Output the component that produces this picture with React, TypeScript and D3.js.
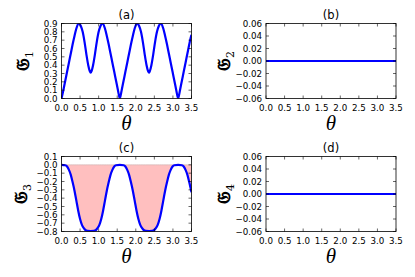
import * as d3 from 'd3';

// theta samples
const s1Theta = [
  0, 0.05, 0.1, 0.15, 0.2, 0.25, 0.3, 0.35, 0.4, 0.46, 0.52, 0.57, 0.62, 0.67, 0.72, 0.76, 0.785,
  0.81, 0.85, 0.9, 0.95, 1.0, 1.05, 1.11, 1.17, 1.22, 1.27, 1.32, 1.37, 1.42, 1.47, 1.52, 1.57,
  1.62, 1.67, 1.72, 1.77, 1.82, 1.87, 1.92, 1.97, 2.03, 2.09, 2.14, 2.19, 2.24, 2.29, 2.33, 2.36,
  2.38, 2.42, 2.47, 2.52, 2.57, 2.62, 2.68, 2.74, 2.79, 2.84, 2.89, 2.94, 2.99, 3.04, 3.09, 3.14,
  3.19, 3.24, 3.29, 3.34, 3.39, 3.44, 3.49, 3.5,
];
const s1Values = [
  0, 0.1, 0.21, 0.32, 0.43, 0.54, 0.65, 0.75, 0.84, 0.9, 0.87, 0.8, 0.68, 0.53, 0.4, 0.33, 0.31,
  0.33, 0.4, 0.53, 0.68, 0.8, 0.87, 0.9, 0.84, 0.75, 0.65, 0.54, 0.43, 0.32, 0.21, 0.1, 0,
  0.1, 0.21, 0.32, 0.43, 0.54, 0.65, 0.75, 0.84, 0.9, 0.87, 0.8, 0.68, 0.53, 0.4, 0.33, 0.31,
  0.33, 0.4, 0.53, 0.68, 0.8, 0.87, 0.9, 0.84, 0.75, 0.65, 0.54, 0.43, 0.32, 0.21, 0.1, 0,
  0.1, 0.21, 0.32, 0.43, 0.54, 0.65, 0.75, 0.765,
];

// theta samples
const s3Theta = [
  0, 0.1, 0.15, 0.2, 0.25, 0.3, 0.35, 0.4, 0.45, 0.5, 0.55, 0.6, 0.65, 0.7, 0.785,
  0.87, 0.92, 0.97, 1.02, 1.07, 1.12, 1.17, 1.22, 1.27, 1.32, 1.37, 1.42, 1.47, 1.57,
  1.67, 1.72, 1.77, 1.82, 1.87, 1.92, 1.97, 2.02, 2.07, 2.12, 2.17, 2.22, 2.27, 2.36,
  2.44, 2.49, 2.54, 2.59, 2.64, 2.69, 2.74, 2.79, 2.84, 2.89, 2.94, 2.99, 3.04, 3.14,
  3.24, 3.29, 3.34, 3.39, 3.44, 3.49, 3.5,
];
const s3Values = [
  0, -0.005, -0.02, -0.06, -0.12, -0.21, -0.31, -0.43, -0.55, -0.65, -0.72, -0.76, -0.785, -0.793, -0.795,
  -0.793, -0.785, -0.76, -0.72, -0.65, -0.55, -0.43, -0.31, -0.21, -0.12, -0.06, -0.02, -0.005, 0,
  -0.005, -0.02, -0.06, -0.12, -0.21, -0.31, -0.43, -0.55, -0.65, -0.72, -0.76, -0.785, -0.793, -0.795,
  -0.793, -0.785, -0.76, -0.72, -0.65, -0.55, -0.43, -0.31, -0.21, -0.12, -0.06, -0.02, -0.005, 0,
  -0.005, -0.02, -0.06, -0.12, -0.21, -0.31, -0.33,
];

// panels (b) and (d) are flat at zero
const flatTheta = [0, 3.5];
const flatValues = [0, 0];

const xTicks = [0, 0.5, 1, 1.5, 2, 2.5, 3, 3.5];
const yTicksA = [0, 0.1, 0.2, 0.3, 0.4, 0.5, 0.6, 0.7, 0.8, 0.9];
const yTicksC = [0.1, 0, -0.1, -0.2, -0.3, -0.4, -0.5, -0.6, -0.7, -0.8];
const yTicksFlat = [-0.06, -0.04, -0.02, 0, 0.02, 0.04, 0.06];

const W = 130;
const H = 75;
const TICK = 3;
const sans = 'DejaVu Sans, sans-serif';

type PanelProps = {
  id: string;
  left: number;
  top: number;
  title: string;
  sub: string;
  theta: number[];
  values: number[];
  yDomain: [number, number];
  yTicks: number[];
  yFmt: string;
  fill?: boolean;
  labelGap: number;
};

function Panel({ id, left, top, title, sub, theta, values, yDomain, yTicks, yFmt, fill, labelGap }: PanelProps) {
  const x = d3.scaleLinear().domain([0, 3.5]).range([0, W]);
  const y = d3.scaleLinear().domain(yDomain).range([H, 0]);
  const pts: [number, number][] = theta.map((t, i) => [t, values[i]]);

  const line = d3.line<[number, number]>()
    .x(d => x(d[0]))
    .y(d => y(d[1]))
    .curve(d3.curveMonotoneX);

  const area = d3.area<[number, number]>()
    .x(d => x(d[0]))
    .y0(y(0))
    .y1(d => y(d[1]))
    .curve(d3.curveMonotoneX);

  const fx = d3.format('.1f');
  const fy = d3.format(yFmt);

  return (
    <g transform={`translate(${left},${top})`}>
      <defs>
        <clipPath id={`clip-${id}`}>
          <rect x={0} y={0} width={W} height={H} />
        </clipPath>
      </defs>
      <g clipPath={`url(#clip-${id})`}>
        {fill && (
          <path d={area(pts) ?? ''} fill="#ffbfbf" stroke="#c9b3b3" strokeWidth={0.6} />
        )}
        <path d={line(pts) ?? ''} fill="none" stroke="#0000ff" strokeWidth={2.2} />
      </g>

      {/* inward ticks on all four sides */}
      {xTicks.map(t => (
        <g key={`xt${t}`}>
          <line x1={x(t)} x2={x(t)} y1={H} y2={H - TICK} stroke="#000" strokeWidth={0.6} />
          <line x1={x(t)} x2={x(t)} y1={0} y2={TICK} stroke="#000" strokeWidth={0.6} />
          <text x={x(t)} y={H + 12.5} textAnchor="middle" fontFamily={sans} fontSize={8.7}>{fx(t)}</text>
        </g>
      ))}
      {yTicks.map(t => (
        <g key={`yt${t}`}>
          <line x1={0} x2={TICK} y1={y(t)} y2={y(t)} stroke="#000" strokeWidth={0.6} />
          <line x1={W} x2={W - TICK} y1={y(t)} y2={y(t)} stroke="#000" strokeWidth={0.6} />
          <text x={-4} y={y(t)} dy="0.36em" textAnchor="end" fontFamily={sans} fontSize={8.7}>{fy(t)}</text>
        </g>
      ))}

      <rect x={0} y={0} width={W} height={H} fill="none" stroke="#000" strokeWidth={0.8} />

      <text x={W / 2} y={-5} textAnchor="middle" fontFamily={sans} fontSize={11.5}>{title}</text>

      <text x={W / 2} y={H + 31} textAnchor="middle" fontFamily="Liberation Serif, serif" fontStyle="italic" fontSize={21}>θ</text>

      <text transform={`translate(${-labelGap},${H / 2}) rotate(-90)`} textAnchor="middle" fontFamily="DejaVu Serif, DejaVu Sans, serif" fontSize={18} fontWeight="bold">
        𝔊<tspan fontSize={11} fontWeight="normal" dy={4}>{sub}</tspan>
      </text>
    </g>
  );
}

export default function App() {
  return (
    <svg width={415} height={277} style={{ position: 'absolute', left: 0, top: 0, background: '#fff' }}>
      <Panel id="a" left={61.5} top={23.5} title="(a)" sub="1" theta={s1Theta} values={s1Values}
        yDomain={[0, 0.9]} yTicks={yTicksA} yFmt=".1f" labelGap={32.5} />
      <Panel id="b" left={266} top={23.5} title="(b)" sub="2" theta={flatTheta} values={flatValues}
        yDomain={[-0.06, 0.06]} yTicks={yTicksFlat} yFmt=".2f" labelGap={36} />
      <Panel id="c" left={61.5} top={156.5} title="(c)" sub="3" theta={s3Theta} values={s3Values}
        yDomain={[-0.8, 0.1]} yTicks={yTicksC} yFmt=".1f" fill labelGap={34.5} />
      <Panel id="d" left={266} top={156.5} title="(d)" sub="4" theta={flatTheta} values={flatValues}
        yDomain={[-0.06, 0.06]} yTicks={yTicksFlat} yFmt=".2f" labelGap={36} />
    </svg>
  );
}
